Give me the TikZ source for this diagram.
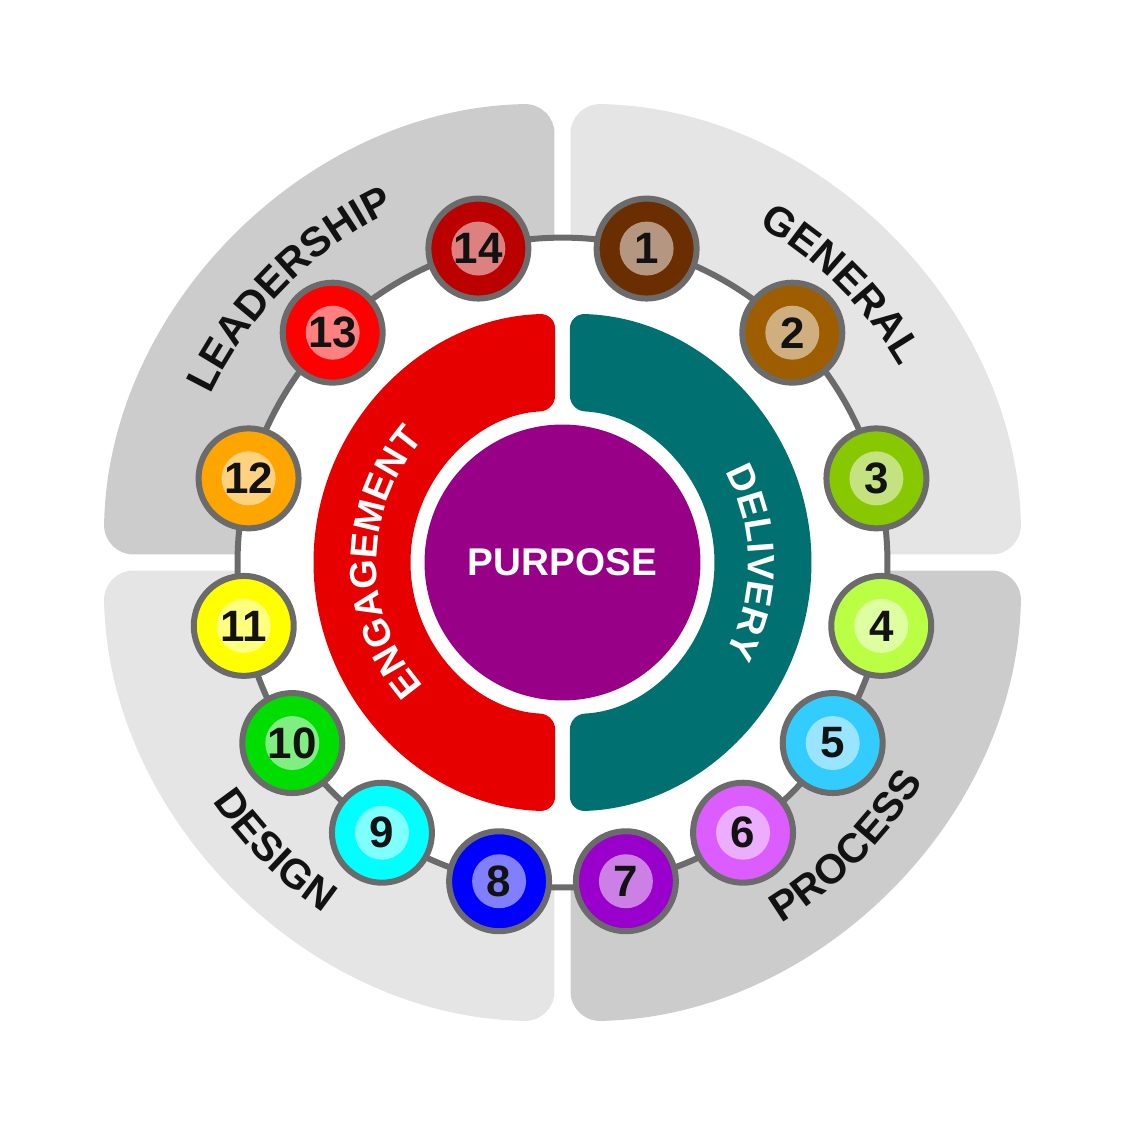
\documentclass[tikz,border=0pt]{standalone}
\usepackage{fontspec}
\setmainfont{Liberation Sans}
\usetikzlibrary{decorations.text,backgrounds}

\definecolor{ringgray}{HTML}{6B6B6B}
\definecolor{quaddark}{HTML}{CCCCCC}
\definecolor{quadlight}{HTML}{E5E5E5}
\definecolor{engred}{HTML}{E60000}
\definecolor{delteal}{HTML}{007070}
\definecolor{purp}{HTML}{990088}
\definecolor{c1}{HTML}{6B2E00}
\definecolor{c2}{HTML}{9E5E00}
\definecolor{c3}{HTML}{88C800}
\definecolor{c4}{HTML}{BBFF44}
\definecolor{c5}{HTML}{33CCFF}
\definecolor{c6}{HTML}{DB5CFF}
\definecolor{c7}{HTML}{9900CC}
\definecolor{c8}{HTML}{0000FF}
\definecolor{c9}{HTML}{00FFFF}
\definecolor{c10}{HTML}{00DD00}
\definecolor{c11}{HTML}{FFFF00}
\definecolor{c12}{HTML}{FFA500}
\definecolor{c13}{HTML}{FF0000}
\definecolor{c14}{HTML}{BB0000}

\newcommand{\quadfont}{\bfseries\fontsize{23.5}{23.5}\selectfont}
\newcommand{\midfont}{\bfseries\fontsize{21.5}{21.5}\selectfont}

\begin{document}
\begin{tikzpicture}[x=0.02cm,y=0.02cm,
		ball/.style={circle,draw=ringgray,line width=0.12cm,fill=#1,minimum size=2cm,inner sep=0pt,
			path picture={\fill[#1!50!white] (path picture bounding box.center) circle[radius=0.54cm];},
			font=\bfseries\fontsize{25}{25}\selectfont,text=black!93},
		ringline/.style={draw=ringgray,line width=0.12cm},
		halfring/.style={rounded corners=0.3cm}]
	\useasboundingbox (-562.5,-562.5) rectangle (562.5,562.5);
	%
	% balls on the ring
	\foreach \n/\a in {1/75,2/45,3/15,4/-11.25,5/-33.75,6/-56.25,7/-78.75,
		8/-101.25,9/-123.75,10/-146.25,11/-168.75,12/165,13/135,14/105}
		\node[ball=c\n] (b\n) at (\a:325) {\n};
	%
	\begin{scope}[on background layer]
		\fill[quaddark,rounded corners=0.6cm] (-8,8) -- (91:459) arc[start angle=91,end angle=179,radius=459] -- cycle;
		\fill[quadlight,rounded corners=0.6cm] (8,8) -- (1:459) arc[start angle=1,end angle=89,radius=459] -- cycle;
		\fill[quadlight,rounded corners=0.6cm] (-8,-8) -- (181:459) arc[start angle=181,end angle=269,radius=459] -- cycle;
		\fill[quaddark,rounded corners=0.6cm] (8,-8) -- (271:459) arc[start angle=271,end angle=359,radius=459] -- cycle;
		\fill[white] (0,0) circle[radius=324];
		%
		\foreach \p/\q/\h in {1/2/15,2/3/15,3/4/13.125,4/5/11.25,5/6/11.25,6/7/11.25,7/8/11.25,
			8/9/11.25,9/10/11.25,10/11/11.25,11/12/13.125,12/13/15,13/14/15,14/1/15}
			\draw[ringline] (b\p.center) to[bend left=\h,looseness=0.86] (b\q.center);
	\end{scope}
	%
	% quadrant labels
	\path[decorate,decoration={text along path,text={|\quadfont|LEADERSHIP},text align=center,text color=black!93}]
		(170:390) arc[start angle=170,end angle=100,radius=390];
	\path[decorate,decoration={text along path,text={|\quadfont|GENERAL},text align=center,text color=black!93}]
		(80:390) arc[start angle=80,end angle=10,radius=390];
	\path[decorate,decoration={text along path,text={|\quadfont|DESIGN},text align=center,text color=black!93}]
		(190:424) arc[start angle=190,end angle=260,radius=424];
	\path[decorate,decoration={text along path,text={|\quadfont|PROCESS},text align=center,text color=black!93}]
		(280:422) arc[start angle=280,end angle=350,radius=422];
	%
	% engagement and delivery
	\fill[engred,halfring] (91.7:249) arc[start angle=91.7,end angle=268.3,radius=249]
		-- (267.2:152) arc[start angle=267.2,end angle=92.8,radius=152] -- cycle;
	\fill[delteal,halfring] (88.3:249) arc[start angle=88.3,end angle=-88.3,radius=249]
		-- (-87.2:152) arc[start angle=-87.2,end angle=87.2,radius=152] -- cycle;
	\path[decorate,decoration={text along path,text={|\midfont|ENGAGEMENT},text align=center,text color=white}]
		(260:186) arc[start angle=260,end angle=100,radius=186];
	\path[decorate,decoration={text along path,text={|\midfont|DELIVERY},text align=center,text color=white}]
		(80:186) arc[start angle=80,end angle=-80,radius=186];
	%
	\node[circle,fill=purp,minimum size=5.52cm,inner sep=0pt,text=white,font=\bfseries\fontsize{22}{22}\selectfont] (purpose) at (0,0) {PURPOSE};
\end{tikzpicture}
\end{document}
